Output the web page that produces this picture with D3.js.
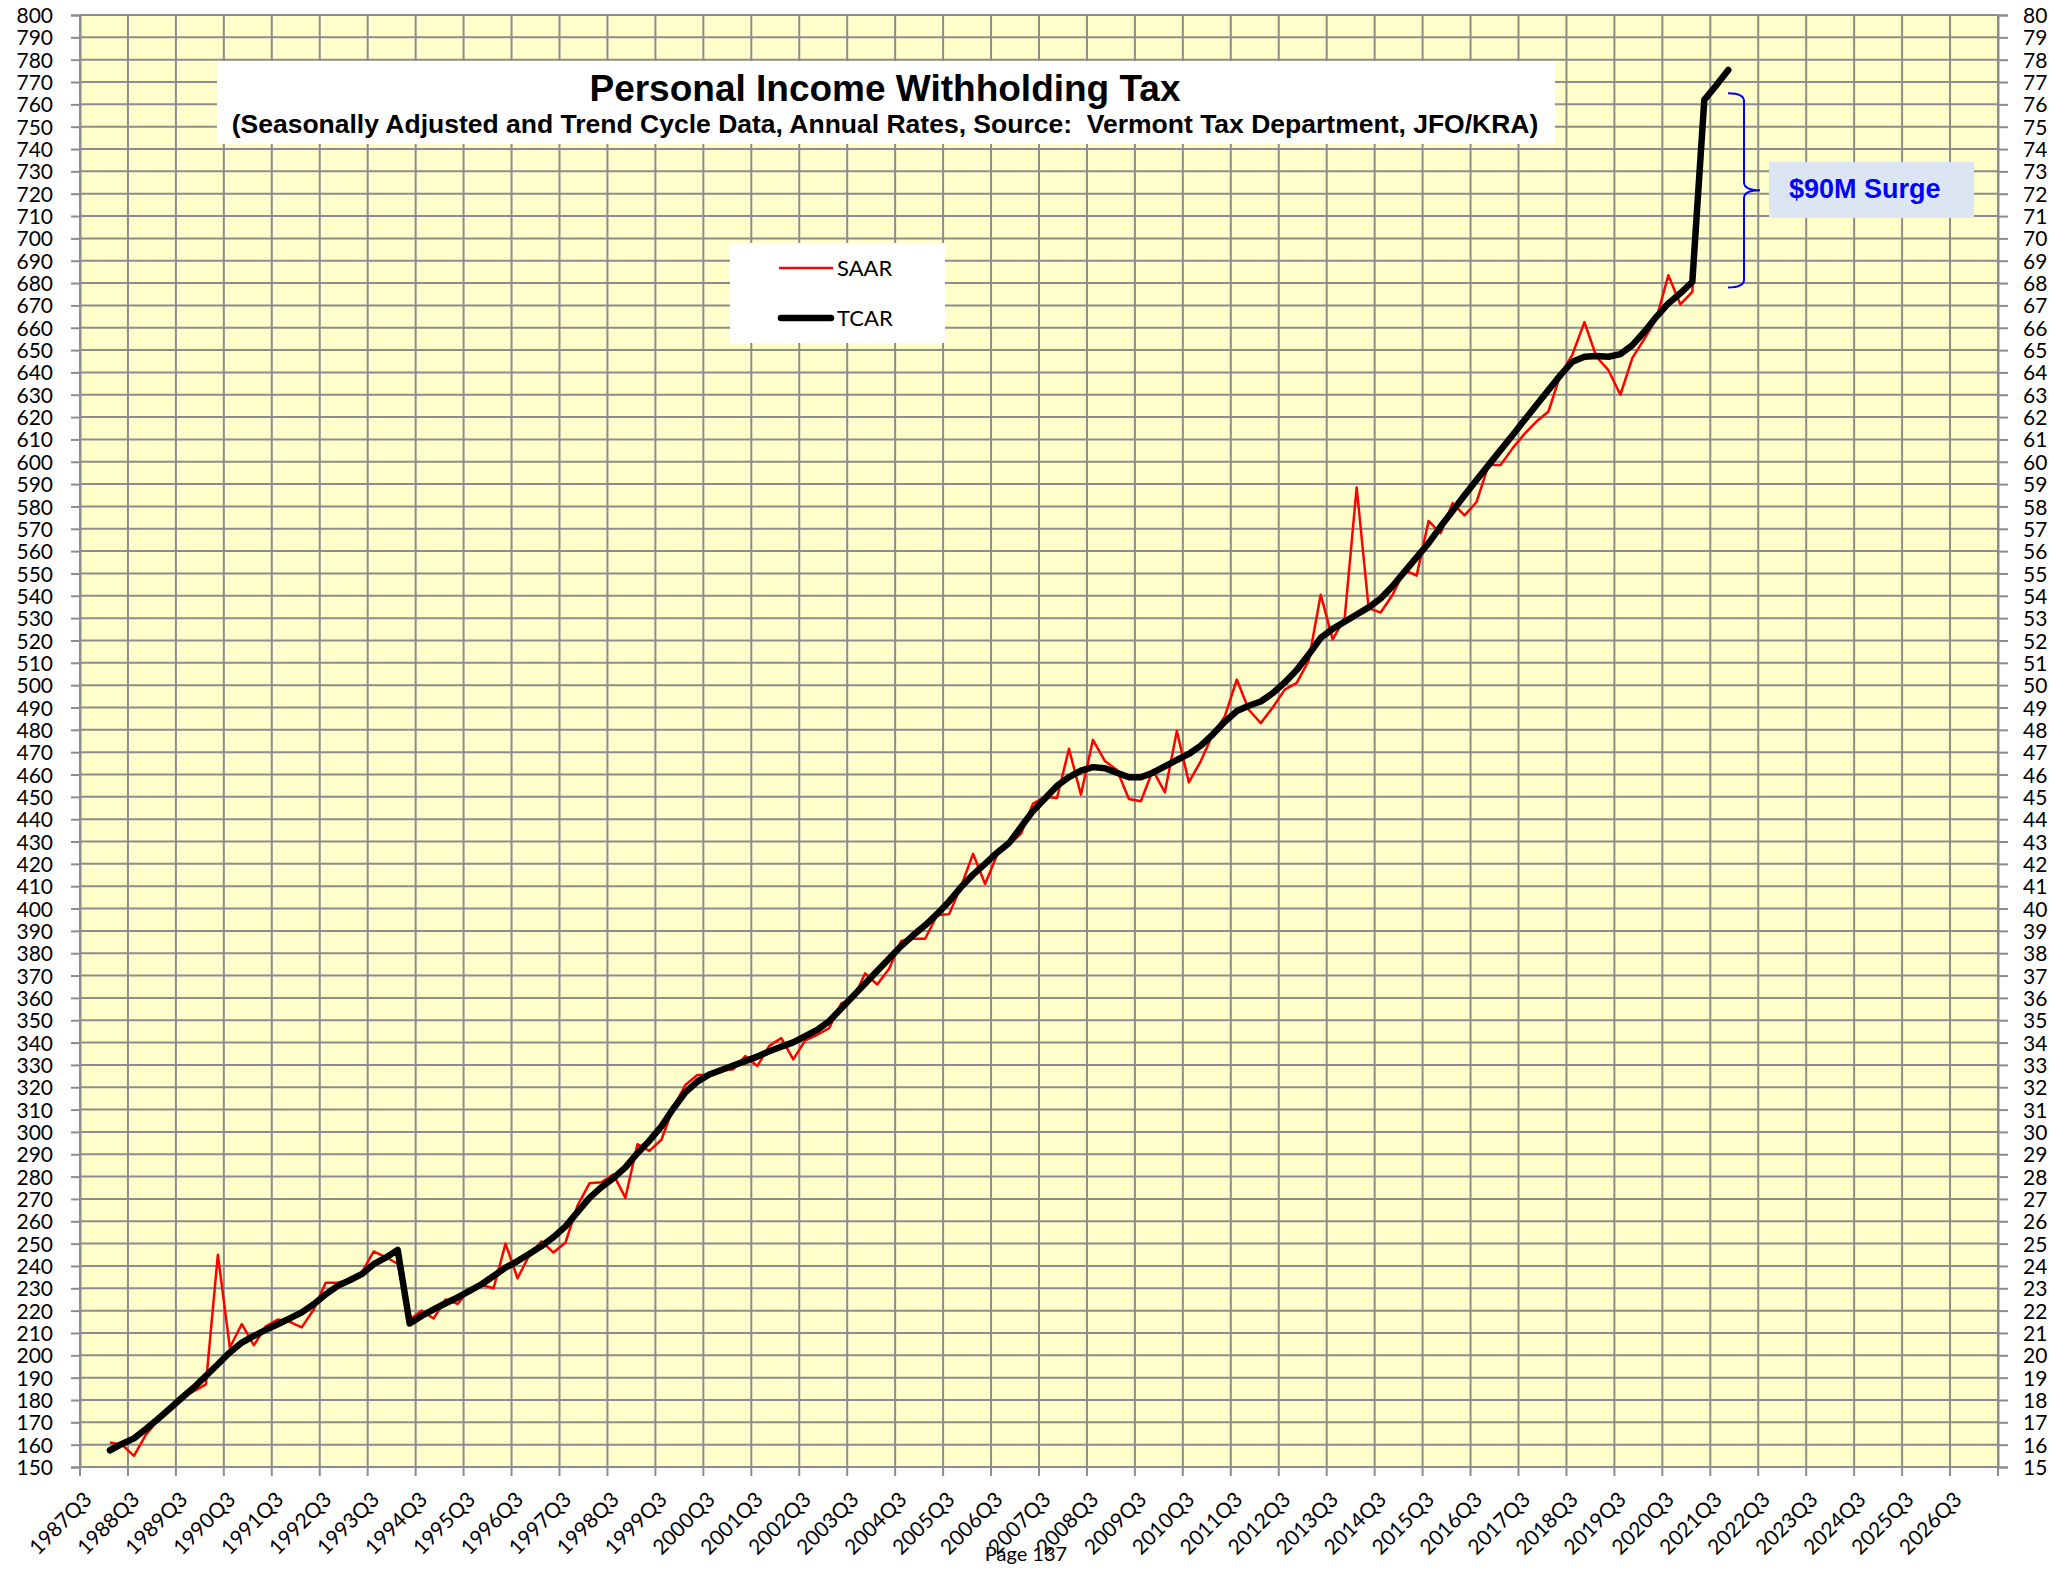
<!DOCTYPE html>
<html>
<head>
<meta charset="utf-8">
<title>Personal Income Withholding Tax</title>
<script src="https://cdn.jsdelivr.net/npm/d3@7"></script>
<style>
    html, body { margin: 0; padding: 0; background: #ffffff; }
    svg { display: block; }
    .tick text { font-family: Lato, "Open Sans", sans-serif; font-size: 21px; fill: #000; }
</style>
</head>
<body>
<div id="chart"></div>
<script>
// quarterly categories on the axis, 1987Q3 .. 2027Q2
var categories = [];
for (var yr = 1987; yr <= 2027; yr++) {
    for (var q = 1; q <= 4; q++) {
        if ((yr === 1987 && q < 3) || (yr === 2027 && q > 2)) continue;
        categories.push(yr + 'Q' + q);
    }
}
var firstQuarter = '1988Q1';

var saar = [
    161, 160, 155, 164.5, 171, 176, 181, 184,
    187, 245, 203.5, 214, 204.5, 213, 216, 215,
    212.5, 220.5, 232.5, 232.5, 234, 237, 246.5, 244,
    241, 216, 220, 216.5, 225, 223, 229.5, 231.5,
    230, 250, 234.5, 245, 251, 246, 250.5, 267,
    277, 277.5, 281, 270.5, 294.5, 291.5, 296.5, 311,
    321, 325.5, 325.5, 327.5, 328, 334, 329.5, 338.5,
    342, 332.5, 341, 343.5, 346.5, 357.5, 359.5, 371,
    366, 373, 385.5, 386.5, 386.5, 397, 397.5, 410,
    424.5, 411, 424, 428.5, 433.5, 447, 450, 449.5,
    471.5, 451, 475.5, 466, 462, 449, 448, 462,
    452, 479.5, 456.5, 466, 478, 486, 502.5, 489,
    483, 490, 498, 501, 511, 540.5, 520.5, 530,
    588.5, 534.5, 532.5, 540.5, 551.5, 549, 573.5, 568,
    581.5, 576, 582, 598.5, 598.5, 606, 612.5, 618,
    622.5, 639, 648, 662.5, 647, 641, 630, 646.5,
    655, 664, 683.5, 670.5, 676, 760.5, 768.5, 776
];

var tcar = [
    157.5, 160.3, 162.8, 167, 171.5, 176.2, 181, 185.6,
    190.8, 196, 201.3, 205.7, 208.7, 211.4, 213.9, 216.5,
    219.2, 222.9, 227.3, 231.1, 233.6, 236.3, 240.8, 243.7,
    247.2, 214.2, 217.6, 220.6, 223.3, 225.9, 228.8, 231.8,
    235.5, 239.3, 242.2, 245.5, 248.9, 252.9, 257.7, 264.1,
    270.5, 275.3, 279.3, 284.1, 290.5, 296.1, 302.5, 310.5,
    317.7, 322.5, 325.7, 327.7, 329.7, 331.7, 333.7, 336.1,
    338.1, 340.1, 342.9, 345.7, 349.6, 355.2, 360.8, 366.4,
    372, 377.6, 383.2, 388, 392.5, 397.6, 403.2, 409.6,
    415.2, 420, 425, 429.3, 436.5, 443.7, 449.3, 454.9,
    458.8, 461.7, 463.3, 462.8, 460.8, 458.8, 458.8, 460.8,
    463.6, 466.5, 469.2, 472.9, 478, 483.6, 488.4, 490.8,
    492.7, 496.4, 501.2, 506.8, 513.7, 521.2, 525.2, 528.4,
    531.6, 534.8, 538.8, 544.4, 550.8, 557.2, 563.6, 571,
    578, 585, 591.8, 598.5, 605.2, 611.9, 618.7, 625.4,
    632.1, 638.8, 644.8, 647, 647.3, 647, 648.2, 652.2,
    658.2, 664.9, 670.9, 675.4, 680.6, 762, 768.5, 775.4
];

var yTicks = d3.range(150, 801, 10);
var xTickLabels = categories.filter(function(c) { return c.slice(-2) === 'Q3'; });

var title = 'Personal Income Withholding Tax';
var subtitle = '(Seasonally Adjusted and Trend Cycle Data, Annual Rates, Source:  Vermont Tax Department, JFO/KRA)';
var surgeLabel = '$90M Surge';
// surge bracket runs between these two levels
var surgeFrom = 678;
var surgeTo = 765;

var width = 2049, height = 1575;
var margin = { top: 15, right: 51, bottom: 108, left: 80 };
var gridColor = '#8c8c8c';

var svg = d3.select('#chart')
    .append('svg')
    .attr('width', width)
    .attr('height', height);

var x = d3.scaleBand()
    .domain(categories)
    .range([margin.left, width - margin.right]);
var y = d3.scaleLinear()
    .domain([150, 800])
    .range([height - margin.bottom, margin.top]);

var cx = function(c) { return x(c) + x.bandwidth() / 2; };
var startIdx = categories.indexOf(firstQuarter);

// plot background
svg.append('rect')
    .attr('x', margin.left)
    .attr('y', y(800))
    .attr('width', x.range()[1] - margin.left)
    .attr('height', y(150) - y(800))
    .attr('fill', '#ffffcc');

// grid
var grid = svg.append('g');
grid.selectAll('.hgrid')
    .data(yTicks)
    .enter().append('line')
    .attr('x1', margin.left)
    .attr('x2', x.range()[1])
    .attr('y1', function(d) { return y(d); })
    .attr('y2', function(d) { return y(d); })
    .attr('stroke', gridColor)
    .attr('stroke-width', 2);

var vLines = categories.filter(function(c, i) { return i % 4 === 0; }).map(function(c) { return x(c); });
vLines.push(x.range()[1]);
grid.selectAll('.vgrid')
    .data(vLines)
    .enter().append('line')
    .attr('x1', function(d) { return d; })
    .attr('x2', function(d) { return d; })
    .attr('y1', y(800))
    .attr('y2', y(150) + 9)
    .attr('stroke', gridColor)
    .attr('stroke-width', 2);

// y axes (the right one is cut by the page edge, only two digits show)
var leftAxis = svg.append('g')
    .attr('transform', 'translate(' + margin.left + ',0)')
    .call(d3.axisLeft(y).tickValues(yTicks).tickSize(9).tickPadding(18));
var rightAxis = svg.append('g')
    .attr('transform', 'translate(' + x.range()[1] + ',0)')
    .call(d3.axisRight(y).tickValues(yTicks).tickSize(10).tickPadding(15)
        .tickFormat(function(d) { return String(d).slice(0, 2); }));
[leftAxis, rightAxis].forEach(function(a) {
    a.select('.domain').attr('stroke', gridColor).attr('stroke-width', 2);
    a.selectAll('.tick line').attr('stroke', gridColor).attr('stroke-width', 2);
    a.selectAll('.tick text').attr('dy', '0.36em');
});

// x axis labels
var xAxis = svg.append('g')
    .attr('transform', 'translate(0,' + y(150) + ')')
    .call(d3.axisBottom(x).tickValues(xTickLabels).tickSize(0).tickPadding(0));
xAxis.select('.domain').remove();
xAxis.selectAll('.tick text')
    .attr('text-anchor', 'end')
    .attr('dy', 0)
    .attr('y', 0)
    .attr('transform', 'translate(7,34) rotate(-45)');

var series = function(vals) {
    return vals.map(function(v, i) { return { c: categories[startIdx + i], v: v }; });
};
var line = d3.line()
    .x(function(d) { return cx(d.c); })
    .y(function(d) { return y(d.v); });

svg.append('path')
    .datum(series(saar))
    .attr('fill', 'none')
    .attr('stroke', '#ff0000')
    .attr('stroke-width', 2.5)
    .attr('stroke-linejoin', 'round')
    .attr('d', line);

svg.append('path')
    .datum(series(tcar))
    .attr('fill', 'none')
    .attr('stroke', '#000000')
    .attr('stroke-width', 6.5)
    .attr('stroke-linejoin', 'round')
    .attr('stroke-linecap', 'round')
    .attr('d', line);

// title box
svg.append('rect')
    .attr('x', 217).attr('y', 61)
    .attr('width', 1338).attr('height', 83)
    .attr('fill', '#ffffff');
svg.append('text')
    .attr('x', 885).attr('y', 101)
    .attr('text-anchor', 'middle')
    .attr('font-family', '"Liberation Sans", Arial, sans-serif')
    .attr('font-weight', 'bold')
    .attr('font-size', 37)
    .text(title);
svg.append('text')
    .attr('x', 885).attr('y', 133)
    .attr('text-anchor', 'middle')
    .attr('font-family', '"Liberation Sans", Arial, sans-serif')
    .attr('font-weight', 'bold')
    .attr('font-size', 26.5)
    .style('white-space', 'pre')
    .text(subtitle);

// legend
var legend = svg.append('g');
legend.append('rect')
    .attr('x', 730).attr('y', 243)
    .attr('width', 215).attr('height', 100)
    .attr('fill', '#ffffff');
legend.append('line')
    .attr('x1', 779).attr('x2', 833).attr('y1', 268).attr('y2', 268)
    .attr('stroke', '#ff0000').attr('stroke-width', 2.5);
legend.append('line')
    .attr('x1', 781).attr('x2', 831).attr('y1', 318).attr('y2', 318)
    .attr('stroke', '#000').attr('stroke-width', 6.5).attr('stroke-linecap', 'round');
legend.append('text')
    .attr('x', 837).attr('y', 276)
    .attr('font-family', 'Lato, sans-serif').attr('font-size', 22)
    .text('SAAR');
legend.append('text')
    .attr('x', 837).attr('y', 326)
    .attr('font-family', 'Lato, sans-serif').attr('font-size', 22)
    .text('TCAR');

// surge bracket
var bx = 1744, bTop = y(surgeTo), bBot = y(surgeFrom), bMid = (bTop + bBot) / 2;
svg.append('path')
    .attr('d', 'M1728,' + bTop + ' Q' + bx + ',' + bTop + ' ' + bx + ',' + (bTop + 8) +
        ' L' + bx + ',' + (bMid - 8) + ' Q' + bx + ',' + bMid + ' 1760,' + bMid +
        ' Q' + bx + ',' + bMid + ' ' + bx + ',' + (bMid + 8) +
        ' L' + bx + ',' + (bBot - 8) + ' Q' + bx + ',' + bBot + ' 1728,' + bBot)
    .attr('fill', 'none')
    .attr('stroke', '#0000ff')
    .attr('stroke-width', 2);
svg.append('rect')
    .attr('x', 1769).attr('y', 162)
    .attr('width', 205).attr('height', 56)
    .attr('fill', '#dce6f2');
svg.append('text')
    .attr('x', 1789).attr('y', 198)
    .attr('font-family', '"Liberation Sans", Arial, sans-serif')
    .attr('font-weight', 'bold')
    .attr('font-size', 27)
    .attr('fill', '#0000ff')
    .text(surgeLabel);

svg.append('text')
    .attr('x', 1026).attr('y', 1561)
    .attr('text-anchor', 'middle')
    .attr('font-family', 'Lato, sans-serif')
    .attr('font-size', 20)
    .text('Page 137');
</script>
</body>
</html>
